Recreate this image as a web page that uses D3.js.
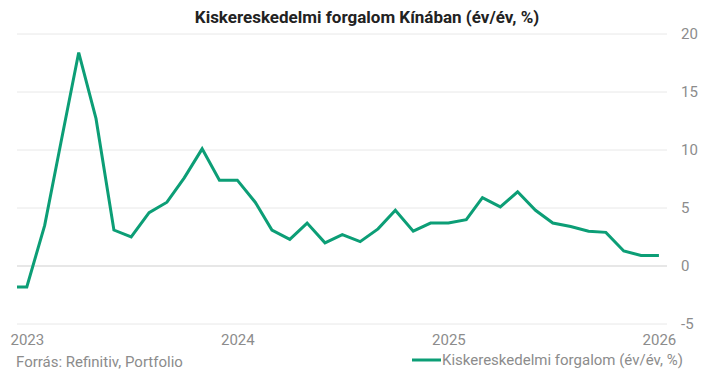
<!DOCTYPE html>
<html>
<head>
<meta charset="utf-8">
<script src="https://cdn.jsdelivr.net/npm/d3@7"></script>
<style>
  body { margin: 0; background: #fff; }
  text { font-family: Roboto, "Noto Sans", sans-serif; }
</style>
</head>
<body>
<div id="chart"></div>
<script>
// monthly data, dated at first of month (Jan repeats Dec value)
var months = [
  "2022-12", "2023-01", "2023-02", "2023-03", "2023-04", "2023-05", "2023-06",
  "2023-07", "2023-08", "2023-09", "2023-10", "2023-11", "2023-12",
  "2024-01", "2024-02", "2024-03", "2024-04", "2024-05", "2024-06",
  "2024-07", "2024-08", "2024-09", "2024-10", "2024-11", "2024-12",
  "2025-01", "2025-02", "2025-03", "2025-04", "2025-05", "2025-06",
  "2025-07", "2025-08", "2025-09", "2025-10", "2025-11", "2025-12", "2026-01"
];
var retail = [
  -1.8, -1.8, 3.5, 10.6, 18.4, 12.7, 3.1,
  2.5, 4.6, 5.5, 7.6, 10.1, 7.4,
  7.4, 5.5, 3.1, 2.3, 3.7, 2.0,
  2.7, 2.1, 3.2, 4.8, 3.0, 3.7,
  3.7, 4.0, 5.9, 5.1, 6.4, 4.8,
  3.7, 3.4, 3.0, 2.9, 1.3, 0.9, 0.9
];
var yTicks = [-5, 0, 5, 10, 15, 20];
var xTickYears = ["2023", "2024", "2025", "2026"];

var svgWidth = 718;
var svgHeight = 378;
var margin = { top: 34, right: 51, bottom: 54, left: 17 };
var width = svgWidth - margin.left - margin.right;
var height = svgHeight - margin.top - margin.bottom;

var parseMonth = d3.timeParse("%Y-%m");
var parseYear = d3.timeParse("%Y");
var data = months.map(function(m, i) {
  return { date: parseMonth(m), value: retail[i] };
});

var green = "#0c9e76";
var grey = "#8c8c8c";

var svg = d3.select("#chart")
  .append("svg")
  .attr("width", svgWidth)
  .attr("height", svgHeight);

var chartGroup = svg.append("g")
  .attr("transform", `translate(${margin.left}, ${margin.top})`);

var xScale = d3.scaleTime()
  .domain([new Date(2022, 11, 15), new Date(2026, 0, 15)])
  .range([0, width]);

var yScale = d3.scaleLinear()
  .domain([-5, 20])
  .range([height, 0]);

// gridlines
chartGroup.selectAll(".grid")
  .data(yTicks)
  .enter()
  .append("line")
  .attr("x1", 0)
  .attr("x2", width)
  .attr("y1", d => yScale(d))
  .attr("y2", d => yScale(d))
  .attr("stroke", d => d === 0 ? "#cfcfcf" : "#e8e8e8")
  .attr("stroke-width", 1);

// right axis labels (plain hyphen for negatives)
var rightAxis = d3.axisRight(yScale)
  .tickValues(yTicks)
  .tickFormat(d => String(d))
  .tickSize(0)
  .tickPadding(14);

chartGroup.append("g")
  .attr("transform", `translate(${width}, 0)`)
  .call(rightAxis)
  .call(g => g.select(".domain").remove())
  .selectAll("text")
  .attr("fill", grey)
  .style("font-size", "15px");

// bottom axis labels
var bottomAxis = d3.axisBottom(xScale)
  .tickValues(xTickYears.map(parseYear))
  .tickFormat(d3.timeFormat("%Y"))
  .tickSize(0)
  .tickPadding(10);

chartGroup.append("g")
  .attr("transform", `translate(0, ${height})`)
  .call(bottomAxis)
  .call(g => g.select(".domain").remove())
  .selectAll("text")
  .attr("fill", grey)
  .style("font-size", "15px");

// clip so the line starts at the plot edge
chartGroup.append("clipPath")
  .attr("id", "clip")
  .append("rect")
  .attr("x", 0)
  .attr("y", -10)
  .attr("width", width)
  .attr("height", height + 20);

var line = d3.line()
  .x(d => xScale(d.date))
  .y(d => yScale(d.value));

chartGroup.append("path")
  .datum(data)
  .attr("clip-path", "url(#clip)")
  .attr("fill", "none")
  .attr("stroke", green)
  .attr("stroke-width", 3)
  .attr("stroke-linejoin", "miter")
  .attr("d", line);

// title
svg.append("text")
  .attr("x", 367)
  .attr("y", 23)
  .attr("text-anchor", "middle")
  .attr("fill", "#222")
  .style("font-size", "17px")
  .style("font-weight", "bold")
  .text("Kiskereskedelmi forgalom Kínában (év/év, %)");

// source
svg.append("text")
  .attr("x", 16)
  .attr("y", 367)
  .attr("fill", grey)
  .style("font-size", "15px")
  .text("Forrás: Refinitiv, Portfolio");

// legend
svg.append("line")
  .attr("x1", 412)
  .attr("x2", 441)
  .attr("y1", 360)
  .attr("y2", 360)
  .attr("stroke", green)
  .attr("stroke-width", 3);

svg.append("text")
  .attr("x", 442)
  .attr("y", 365)
  .attr("fill", grey)
  .style("font-size", "15px")
  .text("Kiskereskedelmi forgalom (év/év, %)");
</script>
</body>
</html>
